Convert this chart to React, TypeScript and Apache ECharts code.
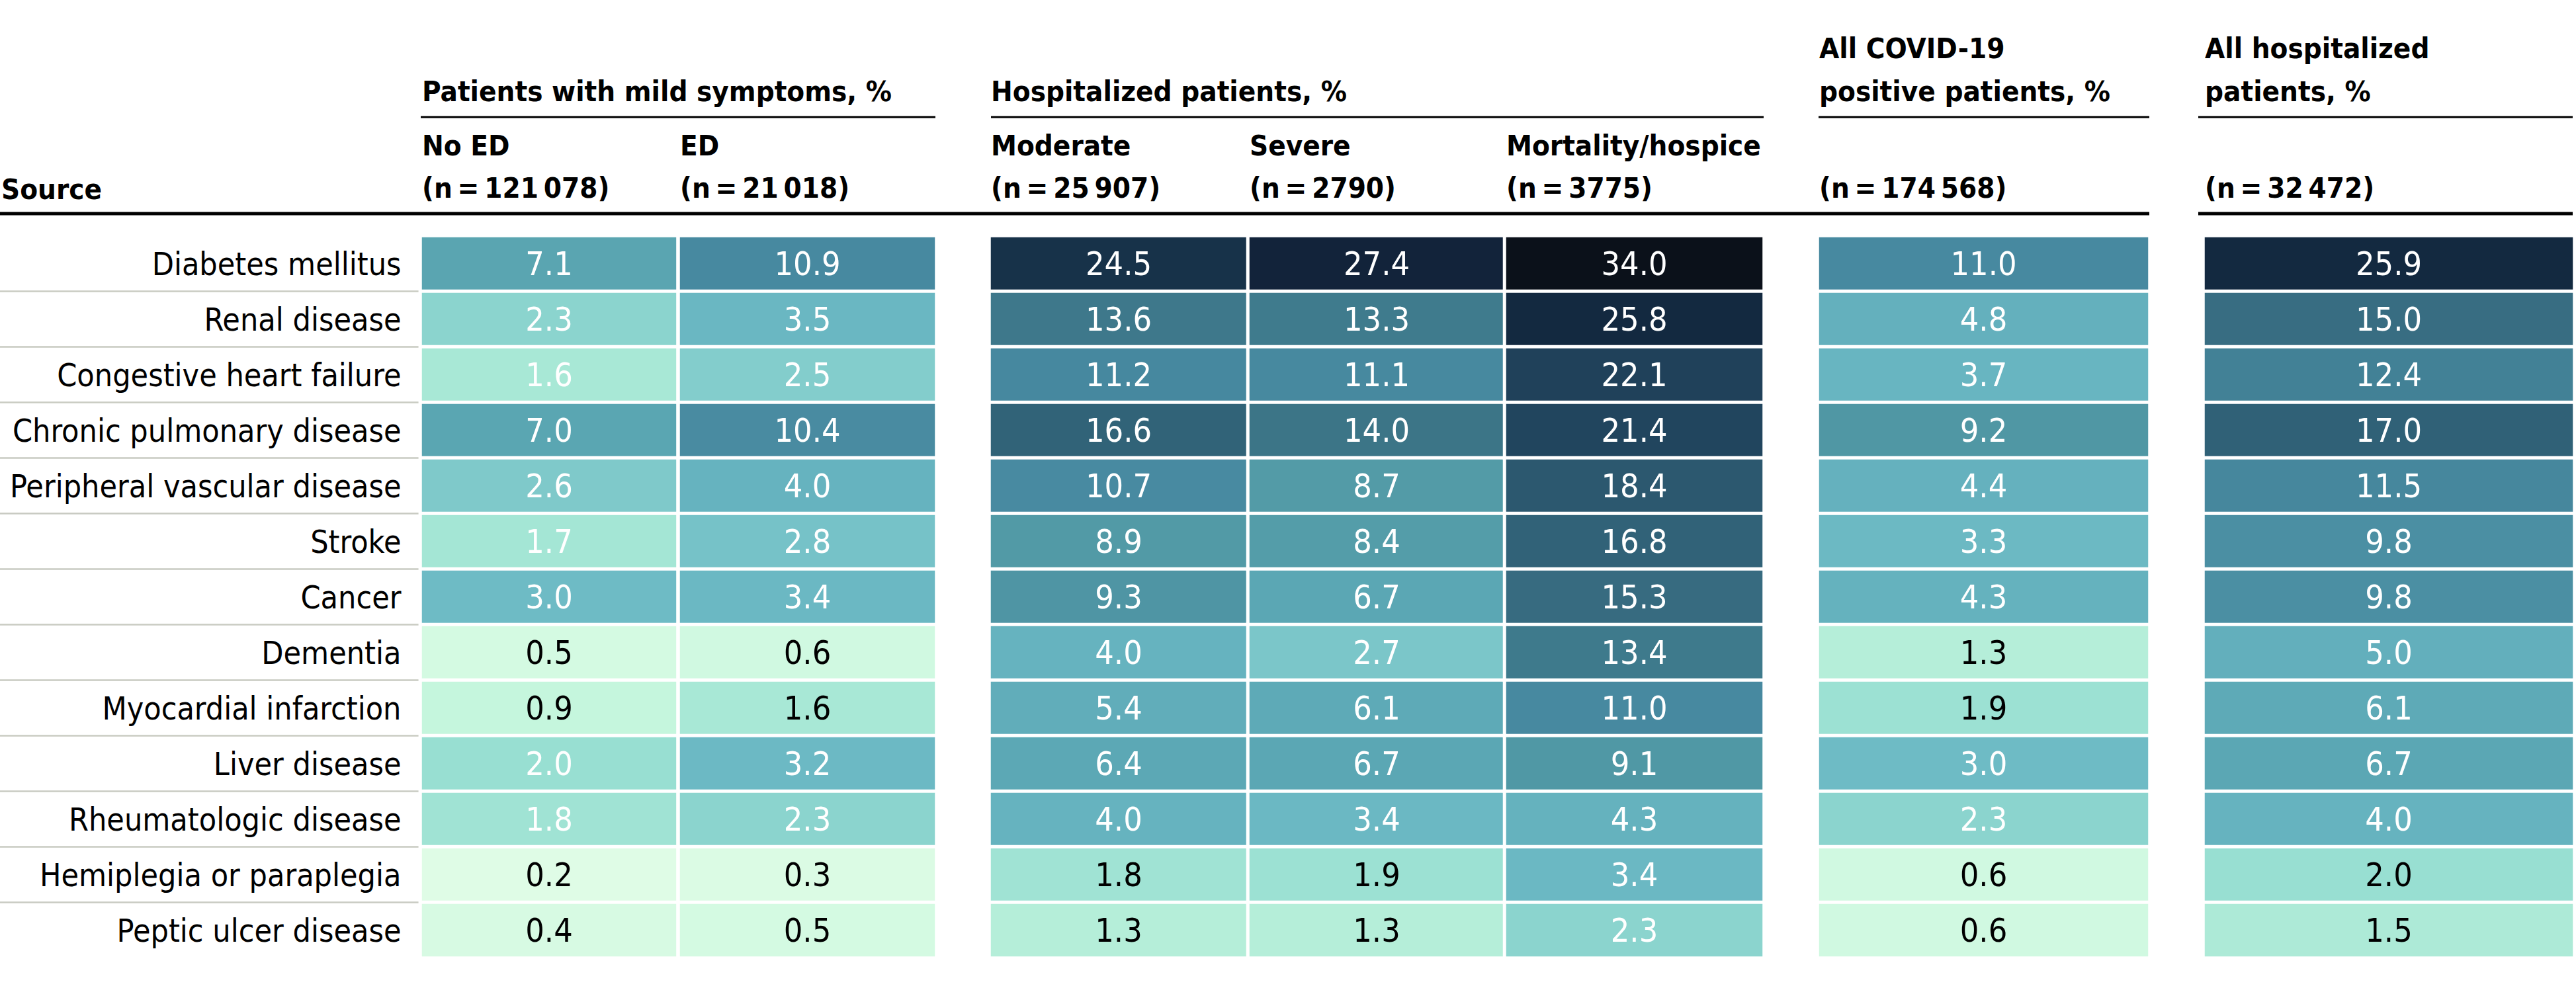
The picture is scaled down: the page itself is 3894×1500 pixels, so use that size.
import React, { useEffect, useRef } from "react";
import * as echarts from "echarts";

// ---------- data ----------
const conditions = [
  "Diabetes mellitus",
  "Renal disease",
  "Congestive heart failure",
  "Chronic pulmonary disease",
  "Peripheral vascular disease",
  "Stroke",
  "Cancer",
  "Dementia",
  "Myocardial infarction",
  "Liver disease",
  "Rheumatologic disease",
  "Hemiplegia or paraplegia",
  "Peptic ulcer disease",
];

const noEd = [7.1, 2.3, 1.6, 7.0, 2.6, 1.7, 3.0, 0.5, 0.9, 2.0, 1.8, 0.2, 0.4];
const ed = [10.9, 3.5, 2.5, 10.4, 4.0, 2.8, 3.4, 0.6, 1.6, 3.2, 2.3, 0.3, 0.5];
const moderate = [24.5, 13.6, 11.2, 16.6, 10.7, 8.9, 9.3, 4.0, 5.4, 6.4, 4.0, 1.8, 1.3];
const severe = [27.4, 13.3, 11.1, 14.0, 8.7, 8.4, 6.7, 2.7, 6.1, 6.7, 3.4, 1.9, 1.3];
const mortality = [34.0, 25.8, 22.1, 21.4, 18.4, 16.8, 15.3, 13.4, 11.0, 9.1, 4.3, 3.4, 2.3];
const allCovid = [11.0, 4.8, 3.7, 9.2, 4.4, 3.3, 4.3, 1.3, 1.9, 3.0, 2.3, 0.6, 0.6];
const allHospitalized = [25.9, 15.0, 12.4, 17.0, 11.5, 9.8, 9.8, 5.0, 6.1, 6.7, 4.0, 2.0, 1.5];

const columnValues = [noEd, ed, moderate, severe, mortality, allCovid, allHospitalized];

const groupTitles = [
  ["Patients with mild symptoms, %"],
  ["Hospitalized patients, %"],
  ["All COVID-19", "positive patients, %"],
  ["All hospitalized", "patients, %"],
];
const groupColumns = [[0, 1], [2, 3, 4], [5], [6]];
const columnNames = ["No ED", "ED", "Moderate", "Severe", "Mortality/hospice", "", ""];
const columnCounts = [
  "(n\u2009=\u2009121\u2009078)",
  "(n\u2009=\u200921\u2009018)",
  "(n\u2009=\u200925\u2009907)",
  "(n\u2009=\u20092790)",
  "(n\u2009=\u20093775)",
  "(n\u2009=\u2009174\u2009568)",
  "(n\u2009=\u200932\u2009472)",
];
const sourceHeader = "Source";

// cells whose value label is printed in black in the original
const darkLabelCells: [number, number][] = [
  [7, 0], [8, 0], [11, 0], [12, 0],
  [7, 1], [8, 1], [11, 1], [12, 1],
  [11, 2], [12, 2],
  [11, 3], [12, 3],
  [7, 5], [8, 5], [11, 5], [12, 5],
  [11, 6], [12, 6],
];

// colour ramp, evenly spaced from 0 to 34
const colorRamp = [
  "#e6fee8", "#c1f5dc", "#98dfd2", "#6ebbc5", "#66b3bf", "#63afbc", "#5eaab7",
  "#5aa6b2", "#56a0ab", "#5199a5", "#4a8da2", "#4789a0", "#44849a", "#407d90",
  "#3c7587", "#386d82", "#33667a", "#306177", "#2d5a71", "#2a546b", "#264d65",
  "#224760", "#20425b", "#1c3c55", "#18354d", "#152e45", "#13283f", "#12243c",
  "#112238", "#101f33", "#0f1c2e", "#0e1a2a", "#0d1724", "#0c141f", "#0b111a",
];

// ---------- layout ----------
const FONT = "'DejaVu Sans Condensed', 'Liberation Sans Narrow', sans-serif";
const COL_X = [638, 1028, 1498, 1889, 2277, 2750, 3333];
const COL_W = [384, 385, 386, 384, 387, 497, 556];
const TOP = 356.5;
const ROW_H = 84;
const GAP = 5;
const GROUP_LINES = [[636, 1414], [1498, 2666], [2749, 3249], [3323, 3889]];
const RULE_LINES = [[0, 3249], [3323, 3889]];
const HEAD_SIZE = 43.5;

function App() {
  const ref = useRef<HTMLDivElement>(null);

  useEffect(() => {
    if (!ref.current) return;
    const chart = echarts.init(ref.current, undefined, { renderer: "svg" });
    const n = conditions.length;
    const isDark = (r: number, c: number) => darkLabelCells.some(([rr, cc]) => rr === r && cc === c);

    const grids: any[] = COL_X.map((x, i) => ({
      left: x - GAP / 2,
      top: TOP,
      width: COL_W[i] + GAP,
      height: ROW_H * n,
      outerBoundsMode: "none",
      containLabel: false,
    }));
    grids.push({ left: 0, top: TOP, width: 633, height: ROW_H * n, outerBoundsMode: "none", containLabel: false });

    const xAxes: any[] = COL_X.map((_, i) => ({
      type: "category",
      gridIndex: i,
      data: ["v"],
      show: false,
    }));
    xAxes.push({ type: "value", gridIndex: 7, show: false, min: 0, max: 1 });

    const yAxes: any[] = COL_X.map((_, i) => ({
      type: "category",
      gridIndex: i,
      data: conditions,
      inverse: true,
      axisLine: { show: false },
      axisTick: { show: false },
      splitLine: { show: false },
      axisLabel: {
        show: i === 0,
        margin: 29,
        fontSize: 48,
        color: "#000",
        fontFamily: FONT,
        interval: 0,
      },
    }));
    yAxes.push({
      type: "category",
      gridIndex: 7,
      data: conditions,
      inverse: true,
      axisLine: { show: false },
      axisTick: { show: false },
      axisLabel: { show: false },
      splitLine: {
        show: true,
        interval: 0,
        showMinLine: false,
        showMaxLine: false,
        lineStyle: { color: "#c9cbc2", width: 2.5 },
      },
    });

    const series: any[] = columnValues.map((vals, c) => ({
      type: "heatmap",
      xAxisIndex: c,
      yAxisIndex: c,
      data: vals.map((v, r) => ({
        value: [0, r, v],
        label: { color: isDark(r, c) ? "#000000" : "#ffffff" },
      })),
      itemStyle: { borderColor: "#ffffff", borderWidth: GAP },
      label: {
        show: true,
        fontSize: 50,
        fontFamily: FONT,
        formatter: (p: any) => Number(p.value[2]).toFixed(1),
      },
      emphasis: { disabled: true },
    }));

    const graphic: any[] = [];
    const headText = (text: string, x: number, baseline: number) => ({
      type: "text",
      x,
      y: baseline - 16,
      style: {
        text,
        fontSize: HEAD_SIZE,
        fontFamily: FONT,
        fontWeight: "bold",
        fill: "#000",
        align: "left",
        verticalAlign: "middle",
      },
    });
    graphic.push(headText(sourceHeader, 2, 302));
    groupTitles.forEach((lines, g) => {
      const x = COL_X[groupColumns[g][0]];
      if (lines.length === 1) {
        graphic.push(headText(lines[0], x, 154));
      } else {
        graphic.push(headText(lines[0], x, 89));
        graphic.push(headText(lines[1], x, 154));
      }
      const [x0, x1] = GROUP_LINES[g];
      graphic.push({ type: "rect", shape: { x: x0, y: 175.5, width: x1 - x0, height: 3 }, style: { fill: "#000" } });
    });
    columnNames.forEach((name, c) => {
      if (name) graphic.push(headText(name, COL_X[c], 236));
      graphic.push(headText(columnCounts[c], COL_X[c], 300));
    });
    RULE_LINES.forEach(([x0, x1]) => {
      graphic.push({ type: "rect", shape: { x: x0, y: 320.5, width: x1 - x0, height: 5 }, style: { fill: "#000" } });
    });

    chart.setOption({
      animation: false,
      backgroundColor: "#ffffff",
      grid: grids,
      xAxis: xAxes,
      yAxis: yAxes,
      visualMap: {
        type: "continuous",
        show: false,
        min: 0,
        max: 34,
        dimension: 2,
        seriesIndex: columnValues.map((_, i) => i),
        inRange: { color: colorRamp },
      },
      series,
      graphic,
    });
    return () => chart.dispose();
  }, []);

  return (
    <div
      ref={ref}
      style={{ position: "absolute", left: 0, top: 0, width: 3894, height: 1500, background: "#fff" }}
    />
  );
}

export default App;
